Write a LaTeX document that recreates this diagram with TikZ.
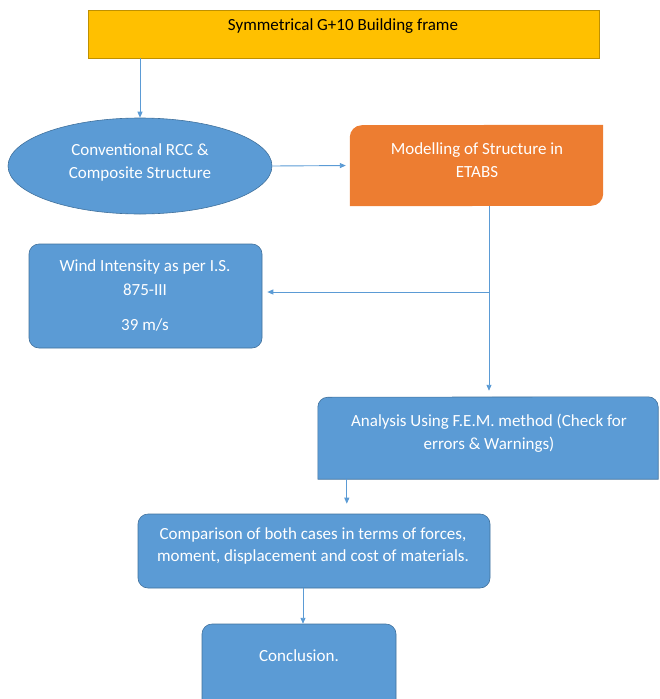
\documentclass[tikz,border=0pt]{standalone}
\usepackage{fontspec}
\setmainfont{Carlito}
\usetikzlibrary{arrows.meta,shapes.geometric}
\definecolor{yel}{HTML}{FFC000}
\definecolor{yelb}{HTML}{BF9000}
\definecolor{org}{HTML}{ED7D31}
\definecolor{blu}{HTML}{5B9BD5}
\definecolor{blub}{HTML}{41719C}
\begin{document}
\begin{tikzpicture}[x=1pt,y=-1pt,
  txt/.style={font=\fontsize{17}{23}\selectfont, text=white, align=center, inner sep=0pt},
  arr/.style={blu, line width=0.9pt, -{Triangle[length=6pt,width=5pt]}},
  ln/.style={blu, line width=0.9pt},
  box/.style={fill=blu, draw=blub, line width=0.6pt},
  anchorbox/.style={rectangle, inner sep=0pt}]
\useasboundingbox (0,0) rectangle (659,699);
\clip (0,0) rectangle (659,699);
% top box
\node[anchorbox, fill=yel, draw=yelb, line width=0.6pt, minimum width=511pt, minimum height=48pt] (frame) at (343.5,34) {};
\node[txt, text=black] (tframe) at (343,26) {Symmetrical G+10 Building frame};
% ellipse
\node[ellipse, box, inner sep=0pt, minimum width=264pt, minimum height=96pt] (conv) at (140,166) {};
\node[txt] (tconv) at (140,162) {Conventional RCC \&\\Composite Structure};
% orange
\node[anchorbox, minimum width=253pt, minimum height=81pt] (model) at (476.5,165.5) {};
\fill[org] (model.south west) -- ++(0,-69) arc(180:270:12) -- (model.north east) -- ++(0,69) arc(0:90:12) -- cycle;
\node[txt] (tmodel) at (477,160) {Modelling of Structure in\\ETABS};
% wind
\node[anchorbox, box, rounded corners=10pt, minimum width=233pt, minimum height=104pt] (wind) at (145.5,296) {};
\node[txt, font=\fontsize{17}{24}\selectfont] (twind) at (145,278) {Wind Intensity as per I.S.\\875-III};
\node[txt] (twind2) at (145,325) {39 m/s};
% analysis
\node[anchorbox, minimum width=340pt, minimum height=82pt] (anal) at (488,438) {};
\filldraw[box] (anal.south west) -- ++(0,-72) arc(180:270:10) -- ([xshift=-10pt]anal.north east) arc(270:360:10) -- (anal.south east) -- cycle;
\node[txt] (tanal) at (489,433.5) {Analysis Using F.E.M. method (Check for\\errors \& Warnings)};
% comparison
\node[anchorbox, box, rounded corners=10pt, minimum width=352pt, minimum height=74pt] (comp) at (314,551) {};
\node[txt, font=\fontsize{17}{22}\selectfont] (tcomp) at (313,546) {Comparison of both cases in terms of forces,\\moment, displacement and cost of materials.};
% conclusion
\node[anchorbox, minimum width=194pt, minimum height=75pt] (concl) at (299,661.5) {};
\filldraw[box] (202,715) -- (202,634) arc(180:270:10) -- (386,624) arc(270:360:10) -- (396,715) -- cycle;
\node[txt] (tconcl) at (299,656) {Conclusion.};
% connectors
\draw[arr] (conv.north |- frame.south) -- (conv.north);
\draw[arr, shorten >=4pt] (conv.east) -- (model.west);
\coordinate (split) at (489,292);
\draw[ln] (model.south -| split) -- (split);
\draw[arr, shorten >=6pt] (split) -- (anal.north -| split);
\draw[arr, shorten >=5pt] (split) -- (wind.east |- split);
\coordinate (adown) at ([xshift=29pt]anal.south west);
\draw[arr, shorten >=10pt] (adown) -- (adown |- comp.north);
\coordinate (cdown) at ([xshift=-11pt]comp.south);
\draw[arr] (cdown) -- (cdown |- concl.north);
\end{tikzpicture}
\end{document}
